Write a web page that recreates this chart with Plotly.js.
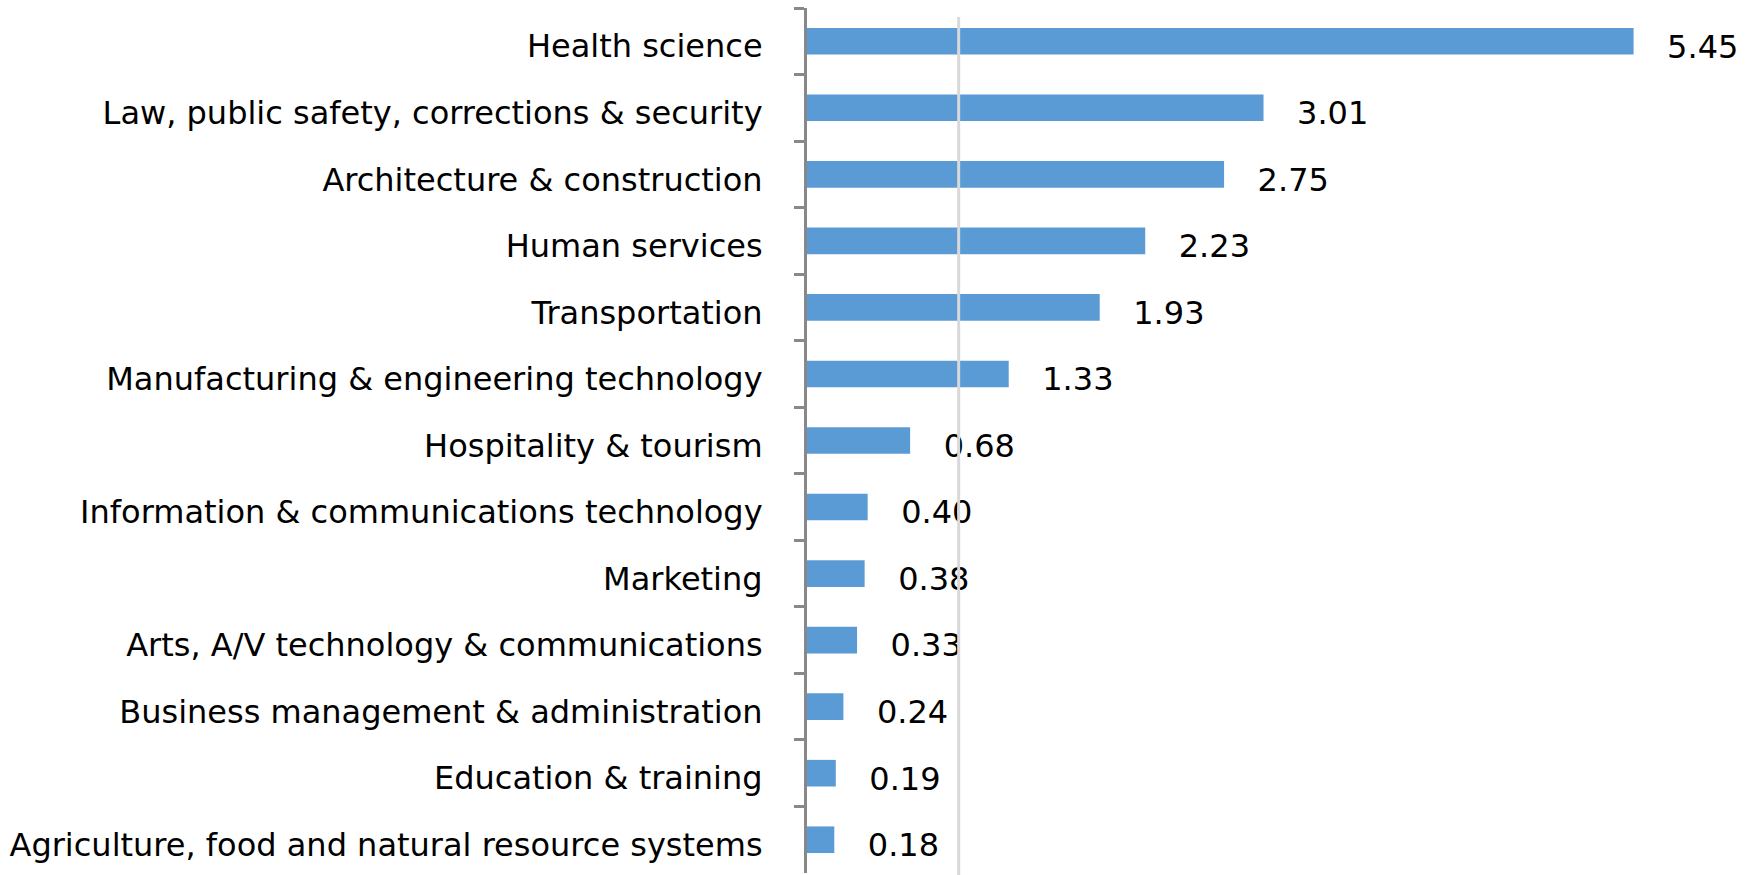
<!DOCTYPE html>
<html>
<head>
<meta charset="utf-8">
<script src="https://cdn.plot.ly/plotly-3.0.1.min.js"></script>
<style>html,body{margin:0;padding:0;background:#fff;}#chart{width:1764px;height:875px;}</style>
</head>
<body>
<div id="chart"></div>
<script>
const categories = [
  "Health science",
  "Law, public safety, corrections & security",
  "Architecture & construction",
  "Human services",
  "Transportation",
  "Manufacturing & engineering technology",
  "Hospitality & tourism",
  "Information & communications technology",
  "Marketing",
  "Arts, A/V technology & communications",
  "Business management & administration",
  "Education & training",
  "Agriculture, food and natural resource systems"
];
const values = [5.45, 3.01, 2.75, 2.23, 1.93, 1.33, 0.68, 0.40, 0.38, 0.33, 0.24, 0.19, 0.18];
const referenceValue = 1;

const n = categories.length;
const textShift = 0.08; // category units, moves value labels slightly down

const bars = {
  type: 'bar',
  orientation: 'h',
  y: categories,
  x: values,
  marker: {color: '#5b9bd5'},
  hoverinfo: 'skip'
};

const labels = {
  type: 'bar',
  orientation: 'h',
  y: categories,
  x: values,
  yaxis: 'y2',
  marker: {color: 'rgba(0,0,0,0)'},
  texttemplate: '\u00a0\u00a0\u00a0%{x:.2f}',
  textposition: 'outside',
  constraintext: 'none',
  cliponaxis: false,
  textfont: {family: 'DejaVu Sans', size: 32, color: '#000'},
  hoverinfo: 'skip'
};

const layout = {
  width: 1764,
  height: 875,
  margin: {l: 807, r: 47, t: 8, b: 2},
  paper_bgcolor: '#fff',
  plot_bgcolor: '#fff',
  showlegend: false,
  bargap: 0.6,
  font: {family: 'DejaVu Sans', size: 32, color: '#000'},
  xaxis: {
    range: [0, 6],
    showgrid: false,
    zeroline: false,
    showticklabels: false,
    showline: false,
    ticks: ''
  },
  yaxis: {
    type: 'category',
    range: [n - 0.5, -0.5],
    showline: true,
    linecolor: '#888888',
    linewidth: 3,
    ticks: 'outside',
    tickson: 'boundaries',
    ticklen: 10,
    tickwidth: 3,
    tickcolor: '#888888',
    ticklabelstandoff: 35,
    ticklabelshift: -5,
    showgrid: false,
    tickfont: {family: 'DejaVu Sans', size: 32, color: '#000'}
  },
  yaxis2: {
    type: 'category',
    overlaying: 'y',
    range: [n - 0.5 - textShift, -0.5 - textShift],
    visible: false
  },
  shapes: [{
    type: 'line',
    xref: 'x', yref: 'paper',
    x0: referenceValue, x1: referenceValue,
    y0: -0.003, y1: 0.9896,
    line: {color: '#d9d9d9', width: 3},
    layer: 'above'
  }]
};

Plotly.newPlot('chart', [bars, labels], layout, {displayModeBar: false, staticPlot: true});
</script>
</body>
</html>
